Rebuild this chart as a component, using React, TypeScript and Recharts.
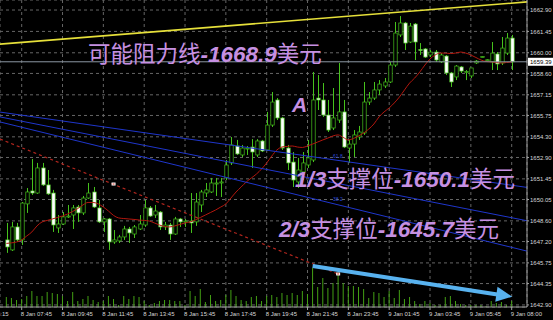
import React from "react";
import {
  ComposedChart,
  Bar,
  Line,
  XAxis,
  YAxis,
  CartesianGrid,
  ReferenceLine,
  ReferenceDot,
} from "recharts";

// XAUUSD M15 bars, oldest first
const opens = [
  1647.31, 1646.63, 1648.19, 1647.31, 1649.75, 1650.63, 1650.49, 1652.19, 1651.04, 1650.49,
  1648.12, 1648.39, 1648.87, 1649.0, 1649.54, 1649.14, 1650.15, 1650.56, 1649.48, 1648.53,
  1648.73, 1647.17, 1647.24, 1647.51, 1648.05, 1647.71, 1648.05, 1648.32, 1649.48, 1649.0,
  1649.2, 1648.19, 1648.32, 1647.71, 1648.73, 1648.53, 1648.59, 1648.53, 1649.68, 1650.49,
  1650.56, 1651.1, 1651.17, 1651.51, 1652.53, 1653.68, 1653.07, 1653.48, 1653.61, 1653.07,
  1654.02, 1653.41, 1655.1, 1656.8, 1655.58, 1653.54, 1652.59, 1651.24, 1651.92, 1652.39,
  1652.73, 1656.93, 1656.8, 1655.78, 1654.9, 1655.44, 1655.99, 1653.54, 1653.81, 1654.29,
  1654.56, 1656.66, 1656.93, 1657.48, 1657.75, 1658.02, 1659.17, 1661.21, 1662.02, 1660.73,
  1661.95, 1660.22, 1660.26, 1659.85, 1660.05, 1659.38, 1659.78, 1658.63, 1658.36, 1659.04,
  1658.7, 1658.43, 1659.31, 1659.71, 1659.51, 1659.38, 1659.92, 1659.31, 1659.98, 1661.0,
];
const highs = [
  1648.46, 1648.53, 1648.46, 1649.88, 1650.83, 1652.8, 1652.53, 1652.53, 1652.05, 1650.7,
  1649.0, 1649.2, 1649.68, 1649.68, 1649.68, 1650.29, 1651.17, 1650.9, 1650.02, 1648.8,
  1648.8, 1647.98, 1647.65, 1648.26, 1648.19, 1648.32, 1649.0, 1650.02, 1649.61, 1649.68,
  1649.27, 1648.53, 1648.46, 1648.87, 1648.8, 1648.73, 1650.49, 1650.49, 1650.7, 1651.17,
  1651.51, 1651.51, 1651.51, 1652.73, 1654.29, 1654.09, 1653.75, 1653.68, 1654.15, 1654.15,
  1654.09, 1655.99, 1657.34, 1656.93, 1655.65, 1653.75, 1653.27, 1652.87, 1653.27, 1654.09,
  1658.7, 1658.49, 1657.95, 1656.8, 1657.61, 1659.31, 1656.8, 1654.09, 1654.76, 1655.04,
  1658.02, 1657.34, 1658.02, 1658.15, 1658.29, 1659.37, 1662.09, 1662.49, 1662.09, 1662.02,
  1662.02, 1660.66, 1660.32, 1660.19, 1660.19, 1659.98, 1659.85, 1658.7, 1659.17, 1659.1,
  1658.83, 1658.97, 1659.51, 1659.76, 1659.56, 1660.73, 1660.05, 1661.07, 1661.34, 1661.21,
];
const lows = [
  1646.43, 1646.56, 1647.17, 1646.97, 1649.14, 1650.36, 1650.43, 1650.97, 1650.36, 1647.85,
  1647.78, 1648.32, 1648.8, 1648.05, 1648.53, 1649.0, 1650.09, 1649.48, 1648.46, 1647.85,
  1646.63, 1647.04, 1647.1, 1647.31, 1647.1, 1647.44, 1647.98, 1648.19, 1648.87, 1648.8,
  1647.98, 1647.98, 1647.31, 1647.65, 1648.19, 1648.19, 1647.78, 1648.26, 1649.2, 1650.22,
  1650.49, 1650.29, 1650.22, 1651.37, 1652.39, 1653.07, 1652.93, 1653.07, 1652.19, 1652.93,
  1653.27, 1653.34, 1654.97, 1655.44, 1653.41, 1652.05, 1650.9, 1650.83, 1651.37, 1652.19,
  1652.59, 1656.12, 1655.65, 1654.63, 1654.76, 1655.24, 1653.54, 1652.53, 1652.93, 1654.09,
  1654.43, 1656.46, 1656.8, 1657.14, 1657.61, 1657.95, 1659.04, 1661.07, 1660.19, 1660.66,
  1659.51, 1659.85, 1659.65, 1659.71, 1659.38, 1659.31, 1658.49, 1657.68, 1658.15, 1658.63,
  1658.15, 1658.29, 1659.24, 1659.69, 1659.49, 1658.83, 1658.83, 1659.17, 1659.85, 1658.83,
];
const closes = [
  1646.83, 1648.19, 1647.31, 1649.81, 1650.56, 1650.49, 1652.19, 1651.04, 1650.43, 1648.32,
  1648.39, 1648.87, 1648.93, 1649.48, 1649.14, 1650.15, 1650.49, 1649.54, 1648.53, 1648.73,
  1647.17, 1647.31, 1647.51, 1648.05, 1647.78, 1648.19, 1648.39, 1649.48, 1648.93, 1649.27,
  1648.19, 1648.32, 1647.71, 1648.73, 1648.53, 1648.59, 1648.46, 1649.88, 1650.56, 1650.7,
  1651.17, 1651.17, 1651.24, 1652.39, 1653.75, 1653.14, 1653.54, 1653.54, 1653.27, 1654.02,
  1653.34, 1655.1, 1656.66, 1655.58, 1653.54, 1652.53, 1651.37, 1652.05, 1652.53, 1652.87,
  1656.8, 1656.8, 1655.78, 1654.76, 1655.58, 1655.99, 1653.61, 1653.81, 1654.43, 1654.63,
  1656.66, 1656.93, 1657.48, 1657.88, 1658.02, 1659.17, 1661.34, 1662.02, 1660.66, 1661.81,
  1660.73, 1660.15, 1659.71, 1660.05, 1659.51, 1659.85, 1658.63, 1658.02, 1659.1, 1658.76,
  1658.73, 1658.97, 1659.44, 1659.74, 1659.53, 1659.98, 1659.24, 1660.32, 1661.0, 1659.39,
];
// tick volume
const volumes = [
  100, 90, 70, 80, 110, 160, 110, 110, 150, 140,
  130, 110, 60, 150, 60, 80, 110, 70, 50, 60,
  110, 80, 20, 110, 80, 110, 100, 60, 20, 40,
  60, 70, 70, 60, 60, 20, 160, 110, 180, 50,
  120, 60, 70, 120, 170, 110, 70, 60, 100, 110,
  60, 110, 120, 100, 140, 120, 140, 120, 160, 130,
  390, 200, 290, 190, 240, 320, 240, 210, 210, 200,
  180, 90, 150, 140, 100, 160, 90, 170, 80, 100,
  60, 30, 60, 40, 20, 20, 100, 110, 60, 30,
  20, 20, 20, 20, 10, 60, 40, 50, 20, 60,
];
// moving average overlay
const maValues = [
  1647.07, 1647.11, 1647.17, 1647.31, 1647.58, 1647.85, 1648.26, 1648.53, 1648.63, 1648.73,
  1648.83, 1648.93, 1649.07, 1649.24, 1649.44, 1649.68, 1649.85, 1649.85, 1649.75, 1649.54,
  1649.27, 1648.97, 1648.8, 1648.76, 1648.73, 1648.7, 1648.66, 1648.63, 1648.59, 1648.46,
  1648.32, 1648.22, 1648.19, 1648.26, 1648.36, 1648.46, 1648.53, 1648.66, 1648.83, 1649.0,
  1649.17, 1649.34, 1649.54, 1649.75, 1650.15, 1650.56, 1650.9, 1651.24, 1651.51, 1651.78,
  1652.12, 1652.53, 1653.0, 1653.41, 1653.61, 1653.65, 1653.68, 1653.61, 1653.58, 1653.68,
  1653.81, 1653.95, 1654.09, 1654.22, 1654.36, 1654.43, 1654.26, 1654.09, 1654.19, 1654.36,
  1654.56, 1654.83, 1655.17, 1655.65, 1655.99, 1656.26, 1656.6, 1657.0, 1657.48, 1657.95,
  1658.29, 1658.7, 1659.17, 1659.58, 1659.85, 1659.98, 1659.98, 1659.95, 1659.98, 1660.05,
  1659.98, 1659.85, 1659.68, 1659.51, 1659.41, 1659.38, 1659.34, 1659.31, 1659.34, 1659.38,
];

const timeTicks = [-5.5, 3, 11, 19, 27, 35, 43, 51, 59, 67, 75, 83, 91, 99];
const timeLabels = [
  "8 Jan 05:15", "8 Jan 07:45", "8 Jan 09:45", "8 Jan 11:45", "8 Jan 13:45", "8 Jan 15:45",
  "8 Jan 17:45", "8 Jan 19:45", "8 Jan 21:45", "8 Jan 23:45", "9 Jan 01:45", "9 Jan 03:45",
  "9 Jan 05:45", "9 Jan 08:00",
];
const priceTicks = [
  1642.9, 1644.35, 1645.75, 1647.2, 1648.6, 1650.05, 1651.45, 1652.9, 1654.3, 1655.75,
  1657.15, 1658.6, 1660.0, 1661.45, 1662.9,
];
const lastPrice = 1659.39;

// chart objects as [bar, price] end points
const resistanceLine = [[-1.25, 1660.59], [102, 1663.45]];
const fanLines = [
  [[-1.25, 1655.98], [102, 1650.87]],
  [[-1.25, 1655.65], [102, 1648.61]],
  [[-1.25, 1655.31], [102, 1646.55]],
];
const orderLine = [[-1.25, 1654.15], [65, 1645.0]];
const orderMarks = [[21, 1651.1], [65, 1645.0]];
const trendArrow = [[60, 1645.54], [99.1, 1643.46]];

const X_DOMAIN = [-1.25, 102];
const PRICE_DOMAIN = [1642.76, 1663.58];

const CANDLE = "#46c21c";
const VOLUME = "#43a014";
const TEXT = "#c690e2";
const AXIS_TEXT = "#d6d6d6";
const CJK = "Noto Sans CJK SC";
const LATIN = "Liberation Sans, Arial, sans-serif";

const rows = opens.map((o, i) => ({
  i,
  open: o,
  high: highs[i],
  low: lows[i],
  close: closes[i],
  range: [lows[i], highs[i]],
  volume: volumes[i],
  ma: maValues[i],
}));

const Candle = (props: any) => {
  const { x, y, width, height, payload } = props;
  const { open, close, high, low } = payload;
  const top = Math.min(y, y + height);
  const h = Math.abs(height);
  const cx = Math.round(x + width / 2) + 0.5;
  const span = high - low || 1;
  const py = (p: number) => top + ((high - p) / span) * h;
  const bTop = py(Math.max(open, close));
  const bBot = py(Math.min(open, close));
  const bull = close >= open;
  return (
    <g>
      <line x1={cx} x2={cx} y1={top} y2={top + Math.max(h, 1)} stroke={CANDLE} strokeWidth={1} />
      <rect
        x={cx - 1.7}
        y={bTop}
        width={3.4}
        height={Math.max(bBot - bTop, 1)}
        fill={bull ? "#000" : "#fff"}
        stroke={CANDLE}
        strokeWidth={0.7}
      />
    </g>
  );
};

const TimeTick = ({ x, y, payload }: any) => {
  const idx = timeTicks.indexOf(payload.value);
  return (
    <text x={x - 1} y={y + 5} fill={AXIS_TEXT} fontSize={6} fontFamily={LATIN} textAnchor="start">
      {timeLabels[idx]}
    </text>
  );
};

const PriceBox = ({ viewBox }: any) => {
  const { x, y, width } = viewBox;
  return (
    <g>
      <rect x={x + width + 1} y={y - 4} width={26} height={8} fill="#fff" />
      <text x={x + width + 3} y={y + 2.2} fontSize={6} fontFamily={LATIN} fill="#000">
        {lastPrice.toFixed(2)}
      </text>
    </g>
  );
};

const Arrow = (props: any) => {
  const { x1, y1, x2, y2 } = props;
  const dx = x2 - x1;
  const dy = y2 - y1;
  const len = Math.hypot(dx, dy) || 1;
  const ux = dx / len;
  const uy = dy / len;
  const bx = x2 - ux * 16;
  const by = y2 - uy * 16;
  const nx = -uy * 7.5;
  const ny = ux * 7.5;
  return (
    <g>
      <line x1={x1} y1={y1} x2={bx + ux} y2={by + uy} stroke="#58b2ef" strokeWidth={4} />
      <polygon points={`${x2},${y2} ${bx + nx},${by + ny} ${bx - nx},${by - ny}`} fill="#58b2ef" />
    </g>
  );
};

const OrderMark = ({ cx, cy }: any) => (
  <g>
    <rect x={cx - 2} y={cy - 1.5} width={4} height={3} fill="#fff" />
    <rect x={cx - 1} y={cy - 0.5} width={2} height={1} fill="#d02a20" />
  </g>
);

const seg = (pts: number[][]) =>
  pts.map(([x, y]) => ({ x, y })) as [{ x: number; y: number }, { x: number; y: number }];

function Annotations() {
  const num = { fontFamily: LATIN, fontWeight: 700, fontStyle: "italic" } as const;
  return (
    <svg width={553} height={320} style={{ position: "absolute", left: 0, top: 0, pointerEvents: "none" }}>
      <g fill={TEXT} fontSize={22.5} fontFamily={CJK}>
        <text x={88} y={62}>
          <tspan>可能阻力线</tspan>
          <tspan {...num}>-1668.9</tspan>
          <tspan>美元</tspan>
        </text>
        <text x={292} y={112} fontSize={21} {...num}>A</text>
        <text x={295} y={187}>
          <tspan {...num}>1/3</tspan>
          <tspan>支撑位</tspan>
          <tspan {...num}>-1650.1</tspan>
          <tspan>美元</tspan>
        </text>
        <text x={279} y={237}>
          <tspan {...num}>2/3</tspan>
          <tspan>支撑位</tspan>
          <tspan {...num}>-1645.7</tspan>
          <tspan>美元</tspan>
        </text>
      </g>
      <g fill="#2a48d8" fontSize={5} fontFamily={LATIN}>
        <text x={333} y={158}>61.8</text>
        <text x={333} y={201}>38.2</text>
      </g>
    </svg>
  );
}

export default function App() {
  return (
    <div style={{ position: "absolute", left: 0, top: 0, width: 553, height: 320, background: "#000" }}>
      <ComposedChart width={553} height={320} data={rows} margin={{ top: 0, right: 0, bottom: 0, left: 0 }}>
        <XAxis
          xAxisId="p"
          dataKey="i"
          type="number"
          domain={X_DOMAIN}
          allowDataOverflow
          ticks={timeTicks}
          interval={0}
          height={13}
          tick={<TimeTick />}
          tickSize={3}
          tickMargin={1}
          axisLine={{ stroke: "#a0a0a0" }}
          tickLine={{ stroke: "#a0a0a0" }}
        />
        <XAxis xAxisId="v" dataKey="i" type="number" domain={X_DOMAIN} allowDataOverflow hide />
        <YAxis
          yAxisId="price"
          orientation="right"
          width={26}
          domain={PRICE_DOMAIN}
          allowDataOverflow
          ticks={priceTicks}
          interval={0}
          tickFormatter={(v: number) => v.toFixed(2)}
          tick={{ fill: AXIS_TEXT, fontSize: 6, fontFamily: LATIN }}
          tickSize={2}
          tickMargin={1}
          axisLine={{ stroke: "#a0a0a0" }}
          tickLine={{ stroke: "#a0a0a0" }}
        />
        <YAxis yAxisId="vol" domain={[0, 3070]} hide />
        <CartesianGrid
          xAxisId="p"
          yAxisId="price"
          stroke="#666"
          strokeDasharray="3 3"
          strokeWidth={1}
        />
        <Bar
          xAxisId="v"
          yAxisId="vol"
          dataKey="volume"
          barSize={1}
          fill={VOLUME}
          activeBar={false}
          isAnimationActive={false}
        />
        <Bar
          xAxisId="p"
          yAxisId="price"
          dataKey="range"
          barSize={4}
          shape={<Candle />}
          activeBar={false}
          isAnimationActive={false}
        />
        <Line
          xAxisId="p"
          yAxisId="price"
          dataKey="ma"
          type="monotone"
          stroke="#b3170e"
          strokeWidth={1}
          dot={false}
          activeDot={false}
          isAnimationActive={false}
        />
        <ReferenceLine
          xAxisId="p"
          yAxisId="price"
          y={lastPrice}
          stroke="#8c97a3"
          strokeWidth={1}
          label={<PriceBox />}
        />
        <ReferenceLine
          xAxisId="p"
          yAxisId="price"
          segment={seg(resistanceLine)}
          stroke="#e6e03a"
          strokeWidth={1.6}
          ifOverflow="visible"
        />
        {fanLines.map((l, k) => (
          <ReferenceLine
            key={k}
            xAxisId="p"
            yAxisId="price"
            segment={seg(l)}
            stroke="#1f36cc"
            strokeWidth={1}
            ifOverflow="visible"
          />
        ))}
        <ReferenceLine
          xAxisId="p"
          yAxisId="price"
          segment={seg(orderLine)}
          stroke="#b3261e"
          strokeWidth={1.2}
          strokeDasharray="3 3"
          ifOverflow="visible"
        />
        {orderMarks.map(([x, y], k) => (
          <ReferenceDot
            key={k}
            xAxisId="p"
            yAxisId="price"
            x={x}
            y={y}
            r={2}
            shape={<OrderMark />}
            ifOverflow="visible"
          />
        ))}
        <ReferenceLine
          xAxisId="p"
          yAxisId="price"
          segment={seg(trendArrow)}
          shape={<Arrow />}
          ifOverflow="visible"
        />
      </ComposedChart>
      <Annotations />
    </div>
  );
}
